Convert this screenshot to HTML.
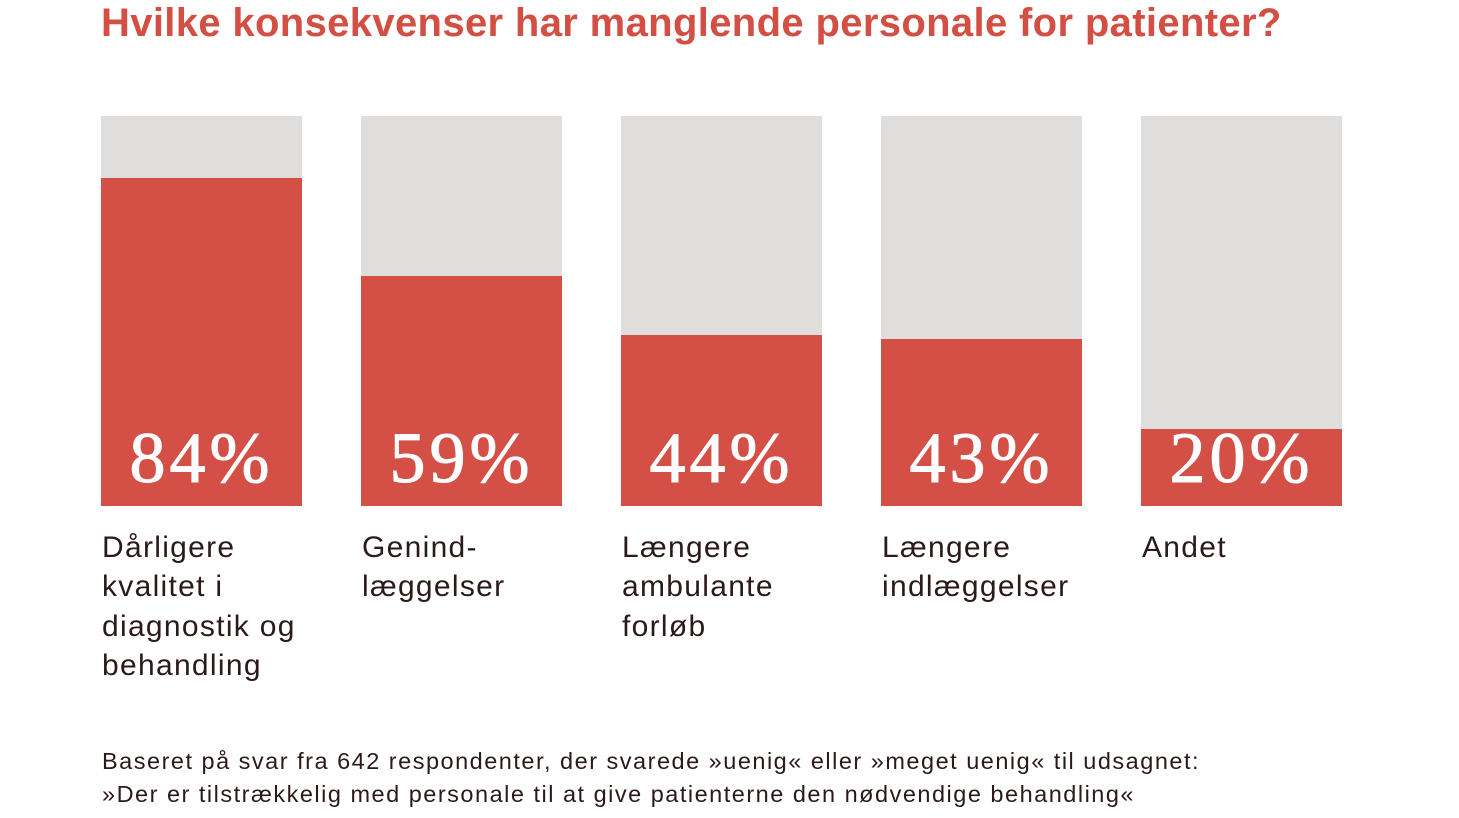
<!DOCTYPE html>
<html><head><style>
body{margin:0;width:1459px;height:818px;background:#fff;position:relative;overflow:hidden;font-family:"Liberation Sans",sans-serif}
.t{position:absolute;left:101px;top:1px;font-size:40px;font-weight:bold;color:#d44f43;white-space:nowrap;letter-spacing:0.35px}
.bar{position:absolute;top:116px;width:201px;height:390px;background:#dfdedd}
.red{position:absolute;left:0;bottom:0;width:100%;background:#d44f45}
.p{position:absolute;left:0;width:100%;text-align:center;top:417px;font-family:"Liberation Serif",serif;font-size:72px;color:#fff;letter-spacing:4px;-webkit-text-stroke:1px #fff}
.l{position:absolute;top:528px;font-size:30px;line-height:39.3px;color:#2a1a18;white-space:nowrap;letter-spacing:1.3px}
.f{position:absolute;left:102px;top:745px;font-size:23.5px;line-height:33px;color:#2a1a18;white-space:nowrap;letter-spacing:1.5px}
</style></head><body>
<div class="t">Hvilke konsekvenser har manglende personale for patienter?</div>
<div class="bar" style="left:101px"><div class="red" style="height:328px"></div></div>
<div class="bar" style="left:361px"><div class="red" style="height:230px"></div></div>
<div class="bar" style="left:621px"><div class="red" style="height:171px"></div></div>
<div class="bar" style="left:881px"><div class="red" style="height:167px"></div></div>
<div class="bar" style="left:1141px"><div class="red" style="height:77px"></div></div>
<div class="p" style="left:101px;width:201px">84%</div>
<div class="p" style="left:361px;width:201px">59%</div>
<div class="p" style="left:621px;width:201px">44%</div>
<div class="p" style="left:881px;width:201px">43%</div>
<div class="p" style="left:1141px;width:201px">20%</div>
<div class="l" style="left:102px">Dårligere<br>kvalitet i<br>diagnostik og<br>behandling</div>
<div class="l" style="left:362px">Genind-<br>læggelser</div>
<div class="l" style="left:622px">Længere<br>ambulante<br>forløb</div>
<div class="l" style="left:882px">Længere<br>indlæggelser</div>
<div class="l" style="left:1142px">Andet</div>
<div class="f">Baseret på svar fra 642 respondenter, der svarede »uenig« eller »meget uenig« til udsagnet:<br>»Der er tilstrækkelig med personale til at give patienterne den nødvendige behandling«</div>
</body></html>
